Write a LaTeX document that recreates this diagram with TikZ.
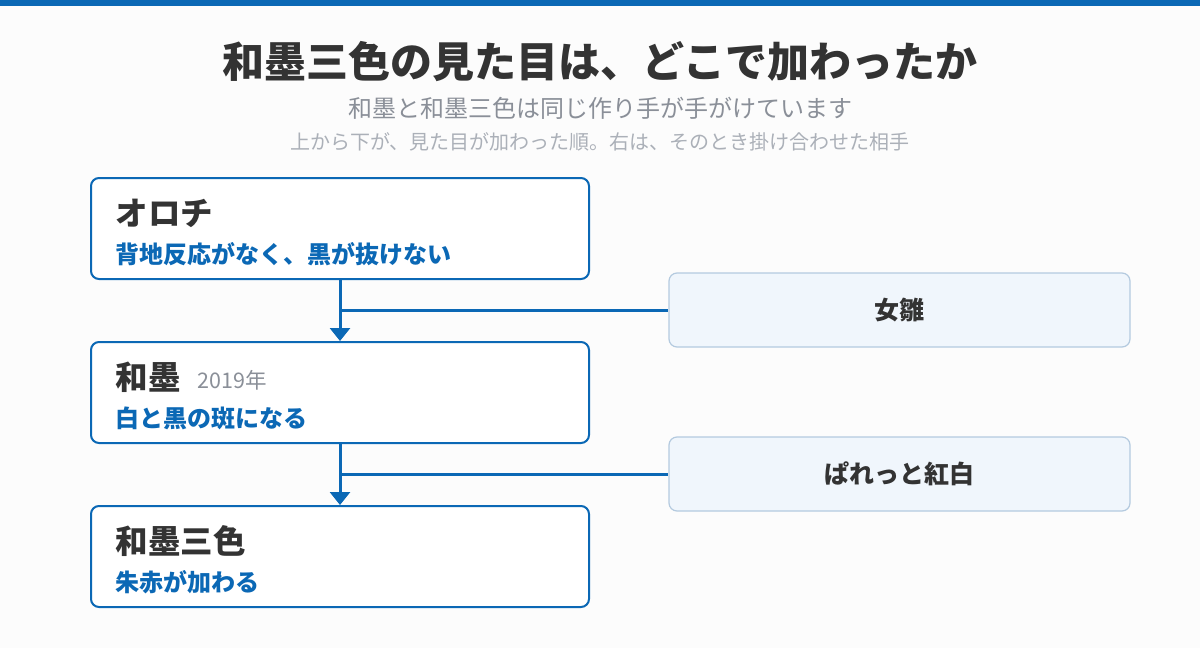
\documentclass[tikz,border=0pt]{standalone}
\usepackage{fontspec}
\setmainfont{Noto Sans CJK JP}
\usetikzlibrary{arrows.meta}
\definecolor{blu}{HTML}{0B68B5}
\definecolor{dark}{HTML}{333333}
\definecolor{gry}{HTML}{8A8F98}
\definecolor{lgry}{HTML}{ABB0B8}
\definecolor{pale}{HTML}{F0F6FC}
\definecolor{paleb}{HTML}{B4CADF}
\tikzset{
  x=1pt,y=-1pt,
  stepbox/.style={draw=blu,line width=2pt,fill=white,rounded corners=8pt,minimum width=498pt,minimum height=101pt,inner sep=0pt},
  side/.style={draw=paleb,line width=1.2pt,fill=pale,rounded corners=8pt,minimum width=461pt,minimum height=74pt,font=\fontsize{25}{29}\selectfont\bfseries,text=dark},
  head/.style={anchor=west,font=\fontsize{32.5}{36}\selectfont\bfseries,text=dark},
  sub/.style={anchor=west,font=\fontsize{24}{28}\selectfont\bfseries,text=blu},
  conn/.style={draw=blu,line width=3pt},
}
\begin{document}
\begin{tikzpicture}
\useasboundingbox (0,0) rectangle (1200,648);
\fill[white!98!gray] (0,0) rectangle (1200,648);
\fill[blu] (0,0) rectangle (1200,6);
\node[font=\fontsize{42}{46}\selectfont\bfseries,text=dark] (t) at (600,62) {和墨三色の見た目は、どこで加わったか};
\node[font=\fontsize{24}{28}\selectfont,text=gry] (s1) at (600,108) {和墨と和墨三色は同じ作り手が手がけています};
\node[font=\fontsize{20}{24}\selectfont,text=lgry] (s2) at (600,142) {上から下が、見た目が加わった順。右は、そのとき掛け合わせた相手};

\node[stepbox] (n1) at (340,228.5) {};
\node[stepbox] (n2) at (340,392.5) {};
\node[stepbox] (n3) at (340,556.5) {};

\node[head] (h1) at (112,213) {オロチ};
\node[sub] (d1) at (112,254) {背地反応がなく、黒が抜けない};
\node[head] (h2) at (112,377) {和墨};
\node[anchor=west,font=\fontsize{21.5}{25}\selectfont,text=gry] (y2) at (194,380) {2019年};
\node[sub] (d2) at (112,418) {白と黒の斑になる};
\node[head] (h3) at (112,541) {和墨三色};
\node[sub] (d3) at (112,582) {朱赤が加わる};

\node[side] (r1) at (899.5,310) {女雛};
\node[side] (r2) at (899.5,474) {ぱれっと紅白};

\draw[conn,-{Triangle[length=13pt,width=20pt]}] (n1.south) -- (n2.north);
\draw[conn,-{Triangle[length=13pt,width=20pt]}] (n2.south) -- (n3.north);
\coordinate (j1) at (340,310); \coordinate (j2) at (340,474);
\draw[conn] (j1) -- (r1.west);
\draw[conn] (j2) -- (r2.west);
\end{tikzpicture}
\end{document}
